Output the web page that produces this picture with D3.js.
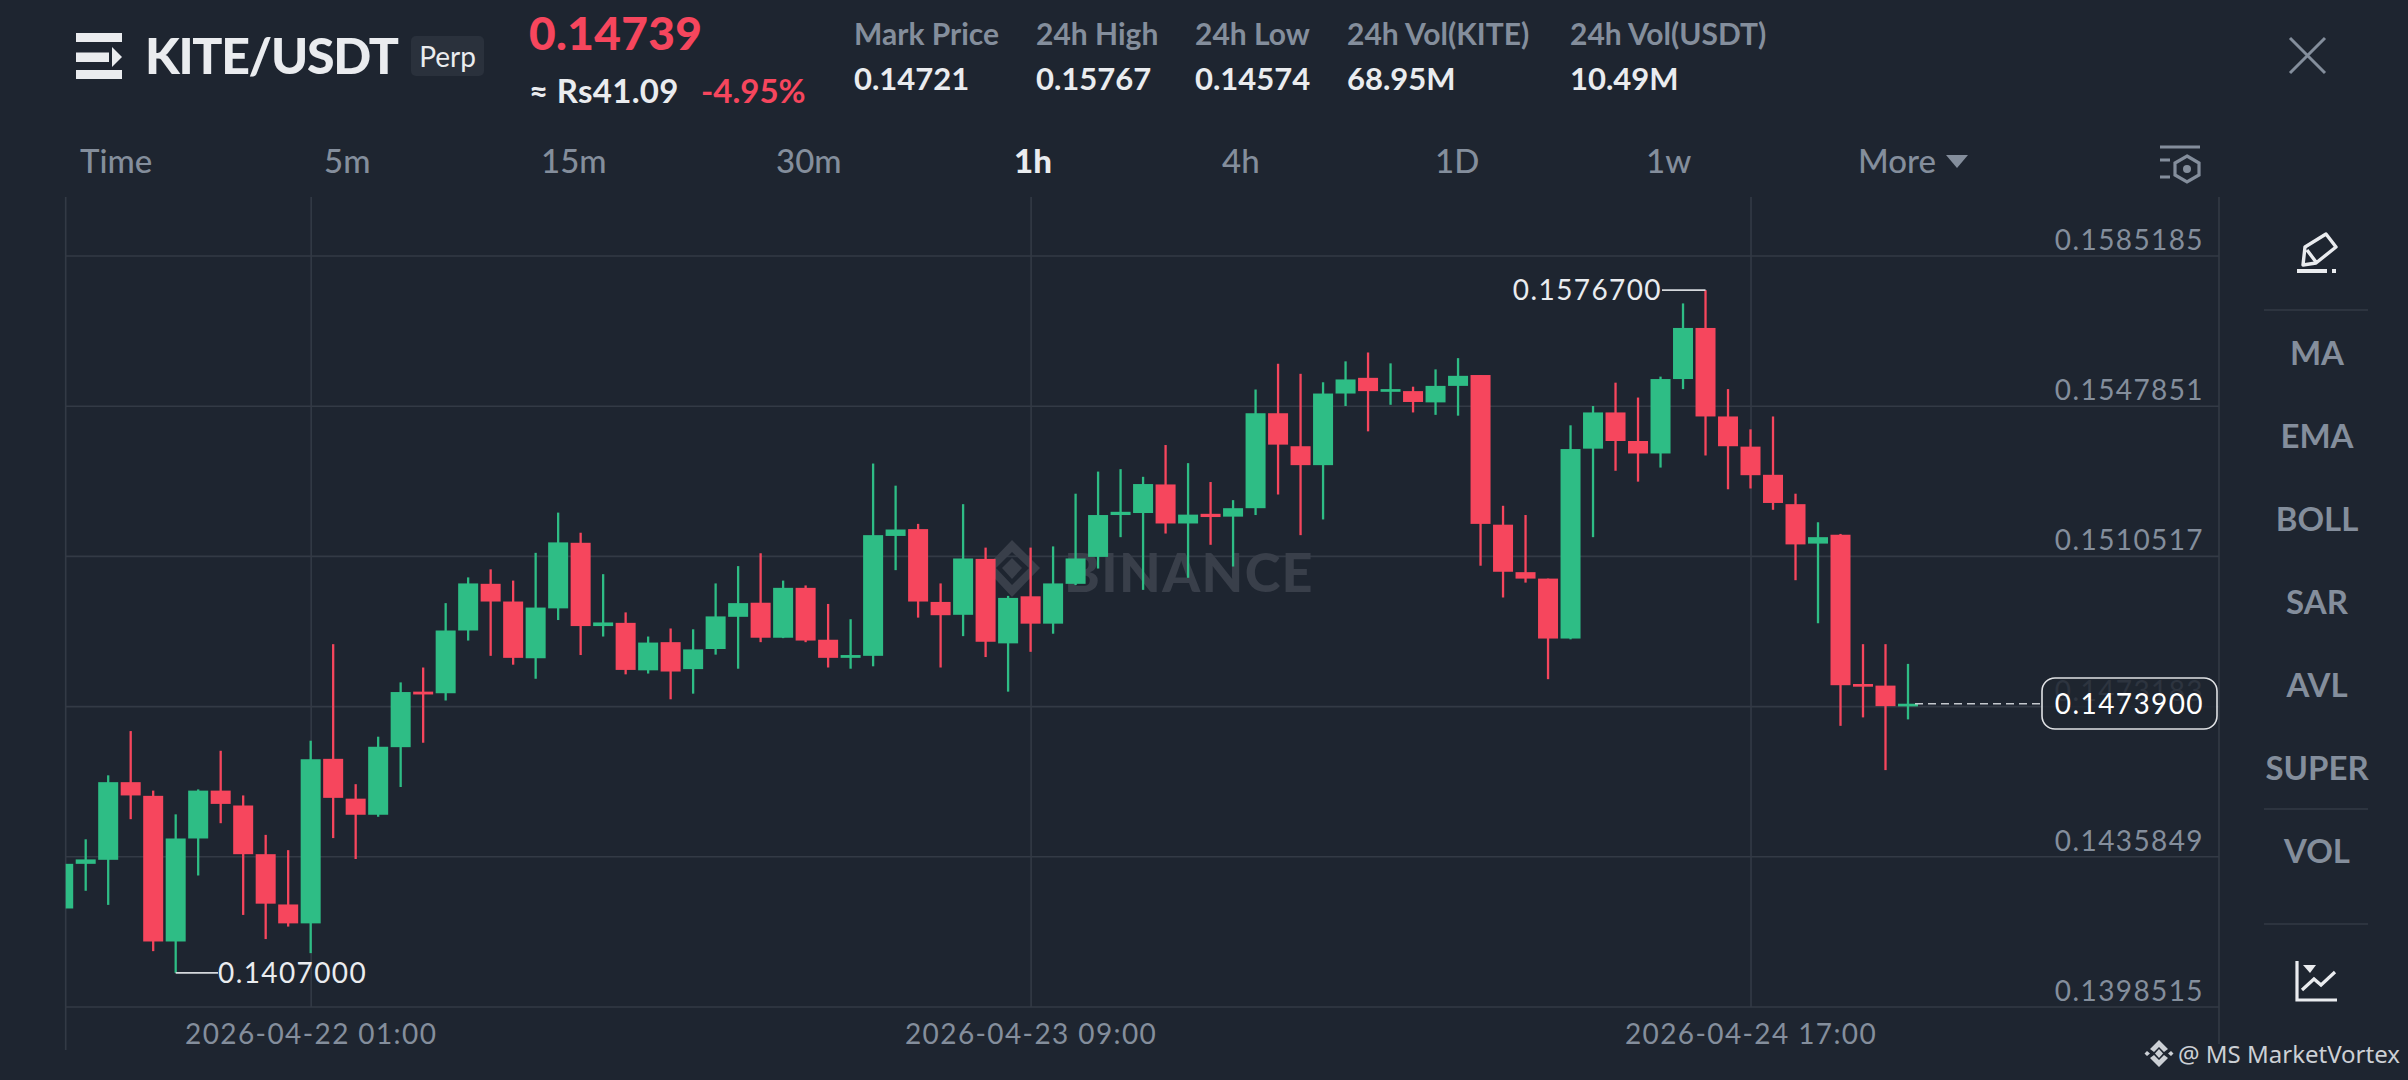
<!DOCTYPE html>
<html>
<head>
<meta charset="utf-8">
<script src="https://cdn.jsdelivr.net/npm/d3@7"></script>
<style>
  html, body { margin: 0; padding: 0; background: #1e2530; overflow: hidden; }
  text { font-family: Lato, "Open Sans", sans-serif; }
</style>
</head>
<body>
<svg id="chart" width="2408" height="1080"></svg>
<script>
// Hourly candles, first one is 2026-04-21 14:00
var firstHour = new Date(Date.UTC(2026, 3, 21, 14));

var open = [
  0.14230,0.14341,0.14351,0.14544,0.14510,0.14148,0.14404,0.14523,0.14486,0.14365,
  0.14240,0.14193,0.14602,0.14503,0.14463,0.14631,0.14769,0.14765,0.14921,0.15037,
  0.14993,0.14852,0.14976,0.15139,0.14932,0.14940,0.14822,0.14892,0.14825,0.14875,
  0.14955,0.14990,0.14903,0.15027,0.14898,0.14853,0.14858,0.15156,0.15173,0.14992,
  0.14960,0.15099,0.14889,0.15006,0.14938,0.15037,0.15104,0.15208,0.15213,0.15284,
  0.15187,0.15211,0.15204,0.15225,0.15461,0.15379,0.15332,0.15510,0.15549,0.15515,
  0.15516,0.15488,0.15529,0.15556,0.15184,0.15066,0.15050,0.14901,0.15373,0.15463,
  0.15392,0.15361,0.15546,0.15673,0.15453,0.15378,0.15308,0.15235,0.15137,0.15159,
  0.14788,0.14784,0.14735
];
var close = [
  0.14341,0.14352,0.14544,0.14511,0.14148,0.14404,0.14523,0.14490,0.14365,0.14242,
  0.14193,0.14601,0.14505,0.14463,0.14632,0.14768,0.14762,0.14921,0.15038,0.14993,
  0.14853,0.14978,0.15140,0.14932,0.14941,0.14823,0.14891,0.14819,0.14874,0.14956,
  0.14989,0.14903,0.15027,0.14896,0.14853,0.14860,0.15158,0.15172,0.14993,0.14959,
  0.15100,0.14893,0.15002,0.14938,0.15038,0.15100,0.15208,0.15216,0.15285,0.15187,
  0.15209,0.15203,0.15225,0.15461,0.15383,0.15332,0.15510,0.15545,0.15516,0.15521,
  0.15489,0.15529,0.15554,0.15186,0.15067,0.15050,0.14901,0.15372,0.15463,0.15392,
  0.15361,0.15546,0.15673,0.15453,0.15379,0.15307,0.15238,0.15135,0.15153,0.14785,
  0.14782,0.14733,0.14739
];
var high = [
  0.14341,0.14402,0.14561,0.14671,0.14523,0.14464,0.14526,0.14622,0.14511,0.14413,
  0.14375,0.14647,0.14887,0.14539,0.14657,0.14792,0.14829,0.14989,0.15053,0.15073,
  0.15045,0.15114,0.15214,0.15164,0.15061,0.14966,0.14906,0.14926,0.14924,0.15038,
  0.15081,0.15113,0.15045,0.15033,0.14987,0.14949,0.15336,0.15281,0.15186,0.15038,
  0.15235,0.15127,0.15007,0.15127,0.15130,0.15261,0.15316,0.15322,0.15303,0.15382,
  0.15337,0.15290,0.15245,0.15520,0.15584,0.15559,0.15538,0.15590,0.15612,0.15585,
  0.15527,0.15570,0.15598,0.15556,0.15231,0.15208,0.15050,0.15431,0.15479,0.15537,
  0.15500,0.15552,0.15734,0.15767,0.15521,0.15421,0.15453,0.15261,0.15190,0.15161,
  0.14887,0.14887,0.14838
];
var low = [
  0.14230,0.14274,0.14239,0.14452,0.14124,0.14070,0.14312,0.14442,0.14214,0.14154,
  0.14185,0.14119,0.14405,0.14353,0.14458,0.14532,0.14642,0.14747,0.14896,0.14858,
  0.14836,0.14801,0.14947,0.14860,0.14906,0.14812,0.14814,0.14750,0.14764,0.14861,
  0.14826,0.14892,0.14902,0.14892,0.14829,0.14826,0.14832,0.15071,0.14953,0.14829,
  0.14907,0.14855,0.14769,0.14868,0.14913,0.15034,0.15075,0.15153,0.15022,0.15162,
  0.15052,0.15134,0.15080,0.15208,0.15259,0.15158,0.15197,0.15479,0.15416,0.15482,
  0.15463,0.15457,0.15455,0.15082,0.15003,0.15040,0.14800,0.14899,0.15153,0.15318,
  0.15291,0.15326,0.15521,0.15356,0.15272,0.15274,0.15221,0.15046,0.14939,0.14684,
  0.14705,0.14574,0.14700
];

var priceTicks = [0.1585185, 0.1547851, 0.1510517, 0.1473183, 0.1435849, 0.1398515];
var timeTicks = [new Date(Date.UTC(2026, 3, 22, 1)), new Date(Date.UTC(2026, 3, 23, 9)), new Date(Date.UTC(2026, 3, 24, 17))];
var lastPrice = 0.14739;
var highMark = { index: 73, price: 0.15767 };
var lowMark = { index: 5, price: 0.14070 };

var statLabels = ["Mark Price", "24h High", "24h Low", "24h Vol(KITE)", "24h Vol(USDT)"];
var statValues = ["0.14721", "0.15767", "0.14574", "68.95M", "10.49M"];
var tabLabels = ["Time", "5m", "15m", "30m", "1h", "4h", "1D", "1w", "More"];
var sideLabels = ["MA", "EMA", "BOLL", "SAR", "AVL", "SUPER", "VOL"];

// colours
var bg = "#1e2530", grid = "#333a45", up = "#2ebd85", down = "#f6465d",
    muted = "#848e9c", bright = "#eaecef";

// plot box
var left = 65.7, right = 2219, top_ = 197, bottom = 1007;

var svg = d3.select("#chart");
var times = open.map(function(d, i) { return d3.utcHour.offset(firstHour, i); });

var xScale = d3.scaleUtc().domain([times[0], times[times.length - 1]]).range([63.2, 1908]);
var yScale = d3.scaleLinear().domain([priceTicks[5], priceTicks[0]]).range([bottom, 256]);

// Axes double as the grid
var xAxis = d3.axisBottom(xScale)
    .tickValues(timeTicks)
    .tickSize(top_ - bottom)
    .tickFormat(d3.utcFormat("%Y-%m-%d %H:%M"));
var yAxis = d3.axisLeft(yScale)
    .tickValues(priceTicks)
    .tickSize(right - left)
    .tickFormat(d3.format(".7f"));

function styleAxis(g) {
    g.select(".domain").remove();
    g.selectAll("line").attr("stroke", grid).attr("stroke-width", 1.6);
    g.selectAll("text")
        .attr("fill", muted)
        .style("font-size", "28px")
        .style("letter-spacing", "1.4px");
}

// Outer frame lines run a bit longer than the grid
svg.append("line").attr("x1", left).attr("x2", left).attr("y1", top_).attr("y2", 1050).attr("stroke", grid).attr("stroke-width", 1.6);
svg.append("line").attr("x1", right).attr("x2", right).attr("y1", top_).attr("y2", 1044).attr("stroke", grid).attr("stroke-width", 1.6);

var yG = svg.append("g").attr("transform", "translate(" + right + ",-0.5)").call(yAxis).call(styleAxis);
yG.selectAll("text").attr("x", -15).attr("y", -6).attr("dy", 0).attr("text-anchor", "end");

var xG = svg.append("g").attr("transform", "translate(0," + bottom + ")").call(xAxis).call(styleAxis);
xG.selectAll("text").attr("y", 37).attr("dy", 0).attr("text-anchor", "middle");

// Binance watermark sits under the candles
var wm = svg.append("g").attr("fill", "#393f4a");
wm.append("path").attr("d", "M1012 540 L1040 568 L1012 597 L985 568 Z M1012 552 L996 568 L1012 585 L1029 568 Z");
wm.append("path").attr("d", "M1012 558 L1022 568 L1012 579 L1002 568 Z");
wm.append("text").attr("x", 1064).attr("y", 592).text("BINANCE")
    .style("font-size", "54px").style("font-weight", 900).style("letter-spacing", "1.4px");

// Candles
svg.append("clipPath").attr("id", "plotClip").append("rect")
    .attr("x", left).attr("y", top_).attr("width", right - left).attr("height", bottom - top_);

var bodyWidth = 20, wickWidth = 2.3, minBody = 2.7;
var candles = svg.append("g").attr("clip-path", "url(#plotClip)")
    .selectAll("g").data(times).enter().append("g")
    .attr("fill", function(d, i) { return close[i] >= open[i] ? up : down; });

candles.append("rect")
    .attr("x", function(d) { return xScale(d) - wickWidth / 2; })
    .attr("width", wickWidth)
    .attr("y", function(d, i) { return yScale(high[i]); })
    .attr("height", function(d, i) { return yScale(low[i]) - yScale(high[i]); });

candles.append("rect")
    .attr("x", function(d) { return xScale(d) - bodyWidth / 2; })
    .attr("width", bodyWidth)
    .attr("y", function(d, i) { return yScale(Math.max(open[i], close[i])); })
    .attr("height", function(d, i) { return Math.max(minBody, Math.abs(yScale(open[i]) - yScale(close[i]))); });

// High and low callouts
function callout(mark, x2, anchor) {
    var x1 = xScale(times[mark.index]), yy = yScale(mark.price);
    svg.append("line").attr("x1", x1).attr("x2", x2).attr("y1", yy).attr("y2", yy)
        .attr("stroke", "#d5d8dc").attr("stroke-width", 1.6);
    svg.append("text").attr("x", x2).attr("y", yy + 10).attr("text-anchor", anchor)
        .attr("fill", bright).text(d3.format(".7f")(mark.price))
        .style("font-size", "28px").style("letter-spacing", "1.4px");
}
callout(lowMark, 218, "start");
callout(highMark, 1662, "end");

// Last price line and its box
svg.append("line").attr("x1", xScale(times[82]) + 7).attr("x2", 2040)
    .attr("y1", yScale(lastPrice)).attr("y2", yScale(lastPrice))
    .attr("stroke", "#c4c8cd").attr("stroke-width", 1.6).attr("stroke-dasharray", "8 5");
svg.append("rect").attr("x", 2042).attr("y", 678).attr("width", 175).attr("height", 51).attr("rx", 13)
    .attr("fill", bg).attr("fill-opacity", 0.86).attr("stroke", "#dfe1e4").attr("stroke-width", 1.6);
svg.append("text").attr("x", 2204).attr("y", 714).attr("text-anchor", "end").attr("fill", "#ffffff")
    .text(d3.format(".7f")(lastPrice)).style("font-size", "28px").style("letter-spacing", "1.4px");

// Header
var logo = svg.append("g").attr("fill", bright);
logo.append("rect").attr("x", 76).attr("y", 33).attr("width", 46).attr("height", 9);
logo.append("rect").attr("x", 76).attr("y", 52.5).attr("width", 33).attr("height", 9.5);
logo.append("path").attr("d", "M112 47 L122 57 L112 67 Z");
logo.append("rect").attr("x", 76).attr("y", 70).attr("width", 46).attr("height", 9);

function label(x, y, str, size, weight, fill, anchor) {
    return svg.append("text").attr("x", x).attr("y", y).attr("fill", fill)
        .attr("text-anchor", anchor || "start").text(str)
        .style("font-size", size + "px").style("font-weight", weight);
}

label(145, 74, "KITE/USDT", 50, 900, bright).style("letter-spacing", "-1.3px");
svg.append("rect").attr("x", 411).attr("y", 36).attr("width", 73).attr("height", 40).attr("rx", 5).attr("fill", "#2a313c");
label(447.5, 67, "Perp", 28, 400, bright, "middle");
label(529, 50, "0.14739", 46, 900, down).style("letter-spacing", "0.3px");
label(529, 103, "≈ Rs41.09", 33, 700, bright).style("letter-spacing", "0.3px");
label(701, 103, "-4.95%", 33, 700, down);

var statX = [854, 1036, 1195, 1347, 1570];
statLabels.forEach(function(d, i) { label(statX[i], 45, d, 30, 700, muted); });
statValues.forEach(function(d, i) { label(statX[i], 90, d, 31, 700, bright); });

// close icon
svg.append("path").attr("d", "M2290 38 L2325 73 M2325 38 L2290 73")
    .attr("stroke", muted).attr("stroke-width", 3).attr("fill", "none");

// Interval tabs
var tabX = [80, 324, 541, 776, 1014, 1222, 1435, 1646, 1858];
tabLabels.forEach(function(d, i) {
    var on = d === "1h";
    label(tabX[i], 173, d, 33, on ? 900 : 500, on ? bright : muted);
});
svg.append("path").attr("d", "M1946 155 L1968 155 L1957 168 Z").attr("fill", muted);

var cfg = svg.append("g").attr("stroke", muted).attr("fill", "none").attr("stroke-width", 3.2);
cfg.append("path").attr("d", "M2160 147 L2200 147 M2160 160 L2170 160 M2160 177 L2170 177");
cfg.append("path").attr("d", "M2187 156 L2199 163 L2199 175 L2187 182 L2175 175 L2175 163 Z");
svg.append("circle").attr("cx", 2187).attr("cy", 169).attr("r", 4).attr("fill", muted);

// Side panel
var sideY = [365, 448, 531, 614, 697, 780, 863];
sideLabels.forEach(function(d, i) { label(2317, sideY[i], d, 33, 700, muted, "middle"); });

[310, 809, 924].forEach(function(yy) {
    svg.append("line").attr("x1", 2264).attr("x2", 2368).attr("y1", yy).attr("y2", yy)
        .attr("stroke", grid).attr("stroke-width", 1.6);
});

// pencil
var pen = svg.append("g").attr("stroke", bright).attr("fill", "none").attr("stroke-width", 3.4);
pen.append("path").attr("d", "M2305 247 L2326 234 L2336 247 L2316 263 L2303 265 Z M2307 250 L2316 262").attr("stroke-linejoin", "round");
pen.append("path").attr("d", "M2297 271 L2327 271 M2332 271 L2336 271").attr("stroke-width", 4);

// indicator icon
var ind = svg.append("g").attr("stroke", bright).attr("fill", "none").attr("stroke-width", 3.2);
ind.append("path").attr("d", "M2297 961 L2297 1000 L2337 1000");
ind.append("path").attr("d", "M2302 990 L2314 979 L2321 985 L2335 972");
svg.append("path").attr("d", "M2303 965 L2316 965 L2310 973 Z").attr("fill", bright);

// Author tag
var tag = svg.append("g").attr("fill", "#ccd0d5");
tag.append("path").attr("d", "M2159 1040 L2168 1049 L2164 1052 L2159 1047 L2154 1052 L2150 1049 Z");
tag.append("path").attr("d", "M2159 1067 L2168 1058 L2164 1055 L2159 1060 L2154 1055 L2150 1058 Z");
tag.append("path").attr("d", "M2159 1049 L2163 1053.5 L2159 1058 L2155 1053.5 Z");
tag.append("path").attr("d", "M2147 1051 L2150 1053.5 L2147 1056 L2144.5 1053.5 Z M2171 1051 L2173.5 1053.5 L2171 1056 L2168 1053.5 Z");
tag.append("text").attr("x", 2178).attr("y", 1063).text("@ MS MarketVortex")
    .style("font-family", "'Noto Sans'").style("font-size", "24px");
</script>
</body>
</html>
